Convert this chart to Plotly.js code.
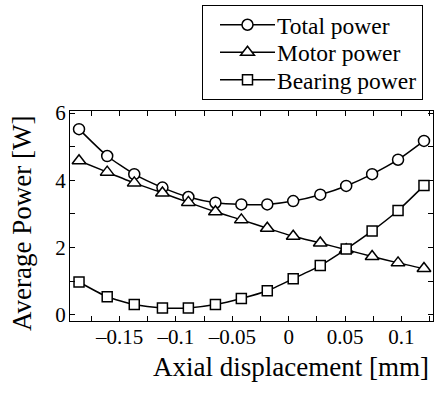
<!DOCTYPE html>
<html>
<head>
<meta charset="utf-8">
<script src="https://cdn.plot.ly/plotly-3.0.1.min.js"></script>
<style>html,body{margin:0;padding:0;background:#fff;}#chart{width:435px;height:394px;}</style>
</head>
<body>
<div id="chart"></div>
<script>
const displacement = [-0.186, -0.161, -0.137, -0.112, -0.089, -0.065, -0.042, -0.019, 0.004, 0.028, 0.051, 0.074, 0.097, 0.120];
const totalPower   = [5.52, 4.72, 4.18, 3.78, 3.50, 3.33, 3.28, 3.28, 3.38, 3.57, 3.83, 4.18, 4.61, 5.17];
const motorPower   = [4.58, 4.24, 3.92, 3.62, 3.34, 3.06, 2.82, 2.57, 2.33, 2.13, 1.93, 1.73, 1.54, 1.37];
const bearingPower = [0.97, 0.53, 0.30, 0.20, 0.20, 0.30, 0.48, 0.71, 1.07, 1.46, 1.95, 2.49, 3.10, 3.84];
const seriesNames  = ["Total power", "Motor power", "Bearing power"];
const xTickVals    = [-0.15, -0.1, -0.05, 0, 0.05, 0.1];
const xTickText    = ["\u20130.15", "\u20130.1", "\u20130.05", "0", "0.05", "0.1"];
const yTickVals    = [0, 2, 4, 6];

const FONT = "Liberation Serif, Times New Roman, serif";
function mk(y, name, symbol, size) {
  return {
    x: displacement, y: y, name: name, type: "scatter", mode: "lines+markers",
    line: {color: "#000", width: 1.5, shape: "spline", smoothing: 0.6},
    marker: {symbol: symbol, size: size, color: "#fff", line: {color: "#000", width: 1.5}}
  };
}
const data = [
  mk(totalPower, seriesNames[0], "circle", 11),
  mk(motorPower, seriesNames[1], "triangle-up", 12),
  mk(bearingPower, seriesNames[2], "square", 10)
];
const axisCommon = {
  showline: true, linecolor: "#000", linewidth: 1, mirror: "ticks",
  ticks: "inside", ticklen: 5, tickwidth: 1, tickcolor: "#000",
  showgrid: false, zeroline: false, automargin: false,
  tickfont: {family: FONT, size: 21, color: "#000"}
};
const L = 70, R = 2, T = 111, B = 73, W = 435, H = 394;
const pw = W - L - R, ph = H - T - B;
const px = v => (v - L) / pw;          // container x pixel -> paper
const py = v => (H - B - v) / ph;      // container y pixel -> paper
const layout = {
  width: W, height: H,
  margin: {l: L, r: R, t: T, b: B, autoexpand: false},
  paper_bgcolor: "#fff", plot_bgcolor: "#fff",
  font: {family: FONT, color: "#000"},
  showlegend: true,
  xaxis: Object.assign({}, axisCommon, {
    range: [-0.194, 0.128], tickvals: xTickVals, ticktext: xTickText, tickangle: 0,
    minor: {dtick: 0.025, tick0: 0, ticks: "inside", ticklen: 5, tickcolor: "#000", tickwidth: 1},
    ticklabelstandoff: -3
  }),
  yaxis: Object.assign({}, axisCommon, {
    range: [-0.19, 6.06], tickvals: yTickVals,
    minor: {dtick: 1, tick0: 0, ticks: "inside", ticklen: 5, tickcolor: "#000", tickwidth: 1},
    ticklabelstandoff: -1
  }),
  legend: {
    x: px(423), xanchor: "right", y: py(5), yanchor: "top",
    bgcolor: "#fff", bordercolor: "#000", borderwidth: 1,
    font: {family: FONT, size: 23.5, color: "#000"},
    itemwidth: 64, tracegroupgap: 0
  },
  annotations: [
    {text: "Axial displacement [mm]", xref: "paper", yref: "paper",
     x: px(291), y: py(367), xanchor: "center", yanchor: "middle",
     showarrow: false, font: {family: FONT, size: 27, color: "#000"}},
    {text: "Average Power [W]", xref: "paper", yref: "paper",
     x: px(22), y: py(224), xanchor: "center", yanchor: "middle", textangle: -90,
     showarrow: false, font: {family: FONT, size: 27, color: "#000"}}
  ]
};
const ROW = 27.5;
function fixLegend(gd) {
  const lg = gd.querySelector("g.legend") || gd.querySelector(".infolayer .legend");
  if (!lg || lg.dataset.fixed) return;
  const tr = Array.from(lg.querySelectorAll("g.traces"));
  if (tr.length < 2) return;
  const parse = t => { const m = /translate\(\s*([-\d.]+)[ ,]+([-\d.]+)/.exec(t.getAttribute("transform") || ""); return m ? [+m[1], +m[2]] : [0, 0]; };
  const p0 = parse(tr[0]), p1 = parse(tr[1]);
  const oldRow = p1[1] - p0[1];
  tr.forEach((t, i) => t.setAttribute("transform", `translate(${p0[0]},${p0[1] + i * ROW - (oldRow - ROW) * 0.5})`));
  const shrink = (oldRow - ROW) * tr.length;
  lg.querySelectorAll("rect.bg").forEach(r => {
    const h = parseFloat(r.getAttribute("height"));
    if (!isNaN(h)) r.setAttribute("height", h - shrink);
  });
  lg.querySelectorAll("path.js-line").forEach(p => p.setAttribute("d", "M17,0h55"));
  lg.querySelectorAll("path.scatterpts").forEach(p => p.setAttribute("transform", "translate(44.5,0)"));
  lg.dataset.fixed = "1";
}
const gdEl = document.getElementById("chart");
Plotly.newPlot(gdEl, data, layout, {displayModeBar: false, staticPlot: true}).then(gd => {
  fixLegend(gd);
  gd.on && gd.on("plotly_afterplot", () => fixLegend(gd));
});
setTimeout(() => fixLegend(gdEl), 0);
setTimeout(() => fixLegend(gdEl), 50);
</script>
</body>
</html>
